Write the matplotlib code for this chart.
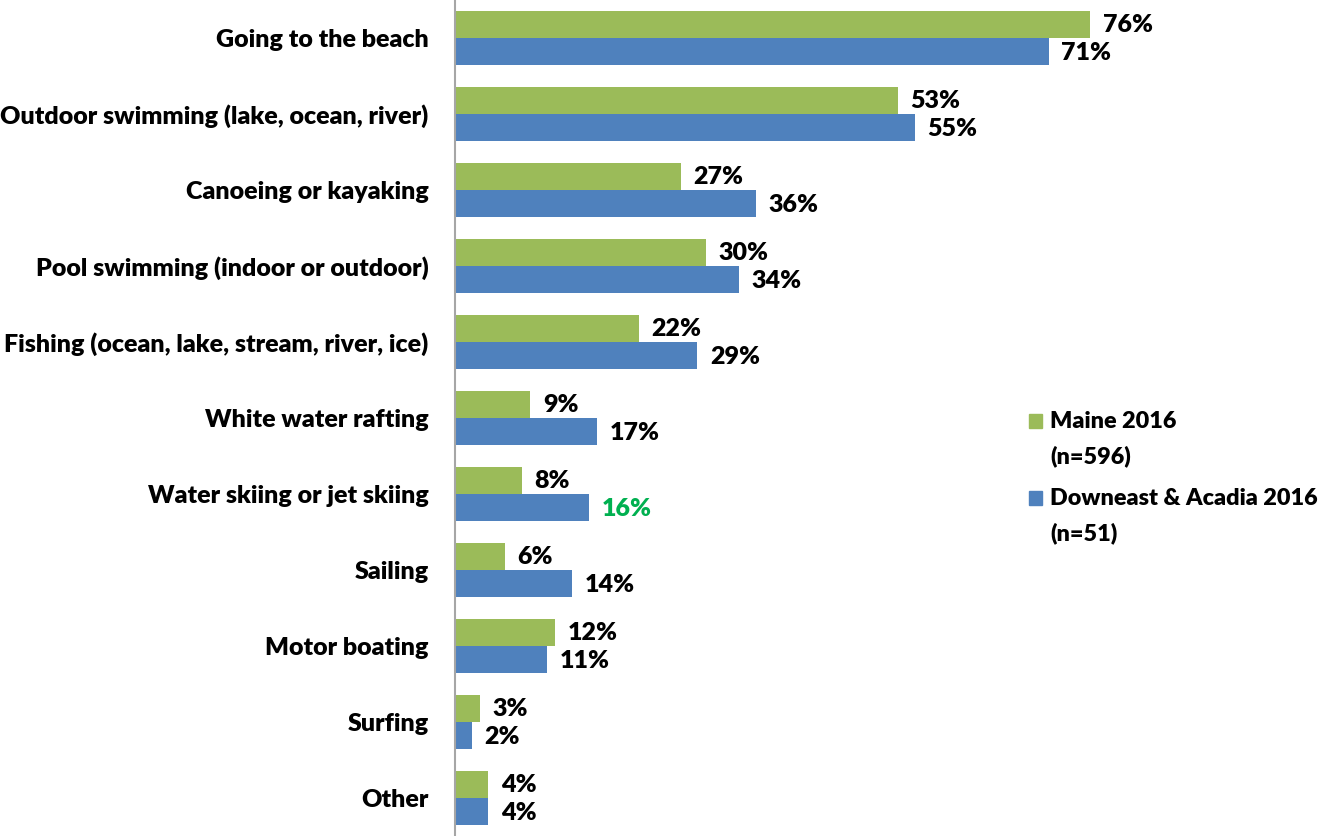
import matplotlib.pyplot as plt
import numpy as np
from matplotlib.patches import Rectangle

plt.rcParams['font.family'] = ['Lato', 'DejaVu Sans']

activities = ["Going to the beach", "Outdoor swimming (lake, ocean, river)",
              "Canoeing or kayaking", "Pool swimming (indoor or outdoor)",
              "Fishing (ocean, lake, stream, river, ice)", "White water rafting",
              "Water skiing or jet skiing", "Sailing", "Motor boating",
              "Surfing", "Other"]
maine = [76, 53, 27, 30, 22, 9, 8, 6, 12, 3, 4]
downeast = [71, 55, 36, 34, 29, 17, 16, 14, 11, 2, 4]
series_names = [["Maine 2016", "(n=596)"], ["Downeast & Acadia 2016", "(n=51)"]]

green = "#9BBB59"
blue = "#4F81BD"
fs = 18
fw = 'heavy'

fig = plt.figure(figsize=(13.25, 8.36), dpi=100)
ax = fig.add_axes([455 / 1325, 0, 870 / 1325, 1])

y = np.arange(len(activities))
h = 0.355
ax.barh(y - h / 2, maine, height=h, color=green)
ax.barh(y + h / 2, downeast, height=h, color=blue)

for i in range(len(activities)):
    ax.text(maine[i] + 1.5, y[i] - h / 2, f"{maine[i]}%", va='center', ha='left',
            fontsize=fs, fontweight=fw, color='black')
    c = '#00B050' if activities[i] == "Water skiing or jet skiing" else 'black'
    ax.text(downeast[i] + 1.5, y[i] + h / 2 + 0.02, f"{downeast[i]}%", va='center', ha='left',
            fontsize=fs, fontweight=fw, color=c)

ax.set_ylim(10.5, -0.5)
ax.set_xlim(0, 870 / 8.36)
ax.set_yticks(y)
ax.set_yticklabels(activities, fontsize=fs, fontweight=fw)
ax.tick_params(axis='y', length=0, pad=19)
ax.set_xticks([])
for s in ['top', 'right', 'bottom']:
    ax.spines[s].set_visible(False)
ax.spines['left'].set_color('#A6A6A6')
ax.spines['left'].set_linewidth(1.5)

# legend drawn by hand: square beside the first line of each two-line label
W, H = 1325, 836
for col, lines, ytop in [(green, series_names[0], 421), (blue, series_names[1], 498)]:
    fig.patches.append(Rectangle((1029 / W, 1 - (ytop + 7) / H), 13 / W, 14 / H,
                                 transform=fig.transFigure, color=col))
    for k, line in enumerate(lines):
        fig.text(1050 / W, 1 - (ytop + 35 * k) / H, line, fontsize=16.8, fontweight=fw,
                 ha='left', va='center')

fig.savefig("out.png", dpi=100)
